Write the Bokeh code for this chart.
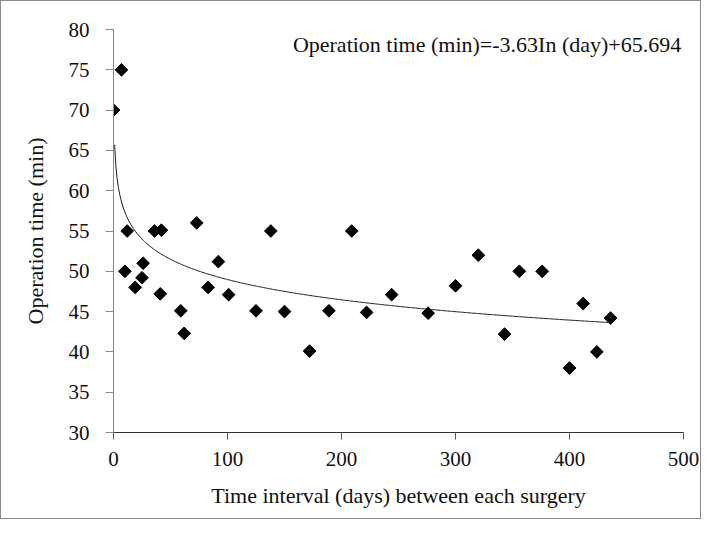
import numpy as np
from bokeh.plotting import figure
from bokeh.models import Label, Range1d, FixedTicker
from bokeh.embed import file_html
from bokeh.resources import INLINE

# Data
days = [0, 7, 10, 12, 19, 25, 26, 36, 42, 41, 59, 62, 73, 83, 92, 101, 125, 138,
        150, 172, 189, 209, 222, 244, 276, 300, 320, 343, 356, 376, 400, 412, 424, 436]
op_time = [70, 75, 50, 55, 48, 49.2, 51, 55, 55.1, 47.2, 45.1, 42.3, 56, 48, 51.2, 47.1,
           45.1, 55, 45, 40.1, 45.1, 55, 44.9, 47.1, 44.8, 48.2, 52, 42.2, 50, 50, 38, 46, 40, 44.2]

# Logarithmic trend line as printed on the chart
coef_a = -3.63
coef_b = 65.694
trend_x = np.linspace(1, 436, 400)
trend_y = coef_a * np.log(trend_x) + coef_b

x_ticks = [0, 100, 200, 300, 400, 500]
y_ticks = [30, 35, 40, 45, 50, 55, 60, 65, 70, 75, 80]

FONT = "Liberation Serif"

p = figure(width=701, height=519, output_backend="svg", toolbar_location=None,
           x_range=Range1d(0, 500), y_range=Range1d(30, 80),
           min_border_left=112, min_border_top=28, min_border_right=19, min_border_bottom=88)
p.styles = {"border": "1px solid #8a8a8a"}
p.outline_line_color = None
p.xgrid.visible = False
p.ygrid.visible = False

p.line(trend_x, trend_y, line_color="#1a1a1a", line_width=1)
p.scatter(days, op_time, marker="square", size=9, angle=np.pi / 4,
          fill_color="#000000", line_color="#000000")

for ax, ticks in ((p.xaxis[0], x_ticks), (p.yaxis[0], y_ticks)):
    ax.ticker = FixedTicker(ticks=ticks)
    ax.minor_tick_line_color = None
    ax.major_tick_in = 0
    ax.major_label_text_font = FONT
    ax.major_label_text_font_size = "21px"
    ax.major_label_text_color = "#111111"
    ax.axis_label_text_font = FONT
    ax.axis_label_text_font_size = "22px"
    ax.axis_label_text_font_style = "normal"
    ax.axis_label_text_color = "#111111"

p.xaxis.major_tick_out = 7
p.yaxis.major_tick_out = 8
p.xaxis.major_label_standoff = 12
p.yaxis.major_label_standoff = 16
p.xaxis.axis_line_color = "#333333"
p.xaxis.major_tick_line_color = "#555555"
p.yaxis.axis_line_color = "#888888"
p.yaxis.major_tick_line_color = "#888888"

p.xaxis.axis_label = "Time interval (days) between each surgery"
p.yaxis.axis_label = "Operation time (min)"
p.xaxis.axis_label_standoff = 14
p.yaxis.axis_label_standoff = 18

eq = Label(x=498, y=78.1, text="Operation time (min)=-3.63In (day)+65.694",
           text_align="right", text_baseline="middle",
           text_font=FONT, text_font_size="22px", text_color="#111111")
p.add_layout(eq)

open("out.html", "w").write(file_html(p, INLINE))
